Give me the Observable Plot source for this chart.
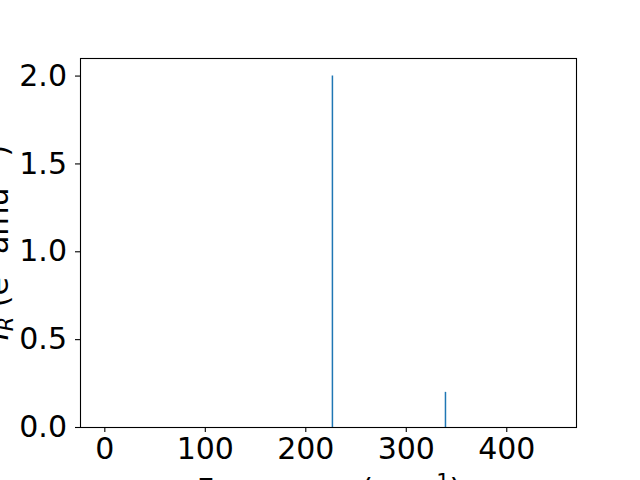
<!DOCTYPE html>
<html>
<head>
<meta charset="utf-8">
<script src="https://cdn.jsdelivr.net/npm/d3@7"></script>
<script src="https://cdn.jsdelivr.net/npm/@observablehq/plot@0.6"></script>
<style>
  html, body { margin: 0; padding: 0; background: #fff; }
</style>
</head>
<body>
<div id="chart"></div>
<script>
const frequencies = [226.5, 339];
const intensities = [2.0, 0.2];
const xTicks = [0, 100, 200, 300, 400];
const yTicks = [0.0, 0.5, 1.0, 1.5, 2.0];
const xLabel = "Frequency (cm";
const yLabelMain = "I";

const data = frequencies.map((f, i) => ({ freq: f, inten: intensities[i] }));

const plot = Plot.plot({
  width: 640,
  height: 480,
  marginLeft: 80,
  marginRight: 64,
  marginTop: 58,
  marginBottom: 53,
  style: { fontFamily: "DejaVu Sans", fontSize: "30px", background: "white", color: "black" },
  x: { domain: [-24.2, 469.4] },
  y: { domain: [0, 2.1] },
  marks: [
    Plot.ruleX(data, { x: "freq", y1: 0, y2: "inten", stroke: "#1f77b4", strokeWidth: 1.5 }),
    Plot.axisX({ ticks: xTicks, tickSize: 5, tickPadding: 5, fontSize: 30, label: null, strokeWidth: 1.1 }),
    Plot.axisY({ ticks: yTicks, tickFormat: d3.format(".1f"), tickSize: 5, tickPadding: 8.5, fontSize: 30, label: null, strokeWidth: 1.1 }),
    Plot.frame({ stroke: "black", strokeWidth: 1.1 })
  ]
});

const svg = d3.select(plot);

// x axis label
const xl = svg.append("text")
  .attr("x", 329).attr("y", 500)
  .attr("text-anchor", "middle")
  .attr("font-family", "DejaVu Sans").attr("font-size", 30).attr("fill", "black");
xl.append("tspan").text(xLabel);
xl.append("tspan").attr("dy", -11).attr("font-size", 21).text("−1");
xl.append("tspan").attr("dy", 11).text(")");

// y axis label
const yl = svg.append("text")
  .attr("transform", "translate(8,242.5) rotate(-90)")
  .attr("text-anchor", "middle")
  .attr("font-family", "DejaVu Sans").attr("font-size", 30).attr("fill", "black");
yl.append("tspan").attr("font-style", "italic").text(yLabelMain);
yl.append("tspan").attr("font-style", "italic").attr("dy", 5).attr("font-size", 21).text("R");
yl.append("tspan").attr("dy", -5).text(" (e");
yl.append("tspan").attr("dy", -11).attr("font-size", 21).text("2");
yl.append("tspan").attr("dy", 11).text(" amu");
yl.append("tspan").attr("dy", -11).attr("font-size", 21).text("−1");
yl.append("tspan").attr("dy", 11).text(")");

document.getElementById("chart").appendChild(plot);
</script>
</body>
</html>
